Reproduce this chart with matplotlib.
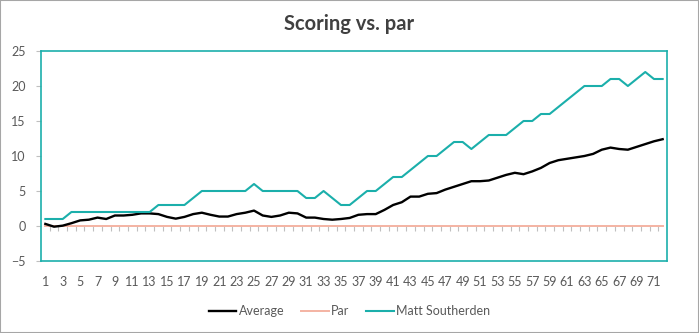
import numpy as np
import matplotlib
matplotlib.use('Agg')
import matplotlib.pyplot as plt
from matplotlib.patches import Rectangle

plt.rcParams['font.family'] = ['Lato', 'DejaVu Sans']

# round number 1..72
rounds = list(range(1, 73))

average = [0.3, -0.1, 0.05, 0.4, 0.8, 0.9, 1.2, 1.0, 1.5, 1.5,
           1.6, 1.8, 1.8, 1.7, 1.3, 1.05, 1.3, 1.7, 1.9, 1.6,
           1.35, 1.35, 1.7, 1.9, 2.2, 1.5, 1.3, 1.5, 1.9, 1.8,
           1.2, 1.2, 1.0, 0.9, 1.0, 1.15, 1.6, 1.7, 1.7, 2.3,
           3.0, 3.4, 4.2, 4.2, 4.6, 4.7, 5.2, 5.6, 6.0, 6.4,
           6.4, 6.5, 6.9, 7.3, 7.6, 7.4, 7.8, 8.3, 9.0, 9.4,
           9.6, 9.8, 10.0, 10.3, 10.9, 11.2, 11.0, 10.9, 11.3, 11.7,
           12.1, 12.4]

par = [0] * 72

matt = [1, 1, 1, 2, 2, 2, 2, 2, 2, 2,
        2, 2, 2, 3, 3, 3, 3, 4, 5, 5,
        5, 5, 5, 5, 6, 5, 5, 5, 5, 5,
        4, 4, 5, 4, 3, 3, 4, 5, 5, 6,
        7, 7, 8, 9, 10, 10, 11, 12, 12, 11,
        12, 13, 13, 13, 14, 15, 15, 16, 16, 17,
        18, 19, 20, 20, 20, 21, 21, 20, 21, 22,
        21, 21]

teal = '#1BAFAB'
grey = '#595959'

fig = plt.figure(figsize=(6.99, 3.33), dpi=100)
ax = fig.add_axes([41/699, 1 - 261/333, 626/699, 210/333])

ax.plot(rounds, average, color='black', lw=1.7, label='Average', zorder=4)
ax.plot(rounds, par, color='#F4B3A3', lw=1.4, label='Par', zorder=3)
ax.plot(rounds, matt, color=teal, lw=1.5, label='Matt Southerden', zorder=5)

# category tick marks hanging under the zero line
ax.vlines(np.arange(1.5, 72, 1), -0.7, 0, color='#BFBFBF', lw=0.8, zorder=2)

ax.set_xlim(0.5, 72.5)
ax.set_ylim(-5, 25)
ax.set_yticks(range(-5, 26, 5))
ax.set_xticks(rounds[::2])
ax.set_xticklabels([str(r) for r in rounds[::2]])
ax.tick_params(axis='both', labelsize=9, labelcolor=grey)
ax.tick_params(axis='x', length=0, pad=11)
ax.tick_params(axis='y', length=3.5, width=0.8, color='#BFBFBF', pad=7.5)
for s in ax.spines.values():
    s.set_color(teal)
    s.set_linewidth(1.2)

fig.text(0.5, 1 - 24/333, 'Scoring vs. par', ha='center', va='center',
         fontsize=14.5, fontweight='bold', color='#404040')

fig.legend(loc='center', bbox_to_anchor=(0.5, 1 - 311/333), ncol=3,
           frameon=False, fontsize=9, labelcolor=grey, handlelength=2.2,
           handletextpad=0.2, columnspacing=1.35)

fig.patches.append(Rectangle((0, 0), 1, 1, transform=fig.transFigure,
                             fill=False, edgecolor='#A6A6A6', lw=1.5))

fig.savefig('out.png', dpi=100)
